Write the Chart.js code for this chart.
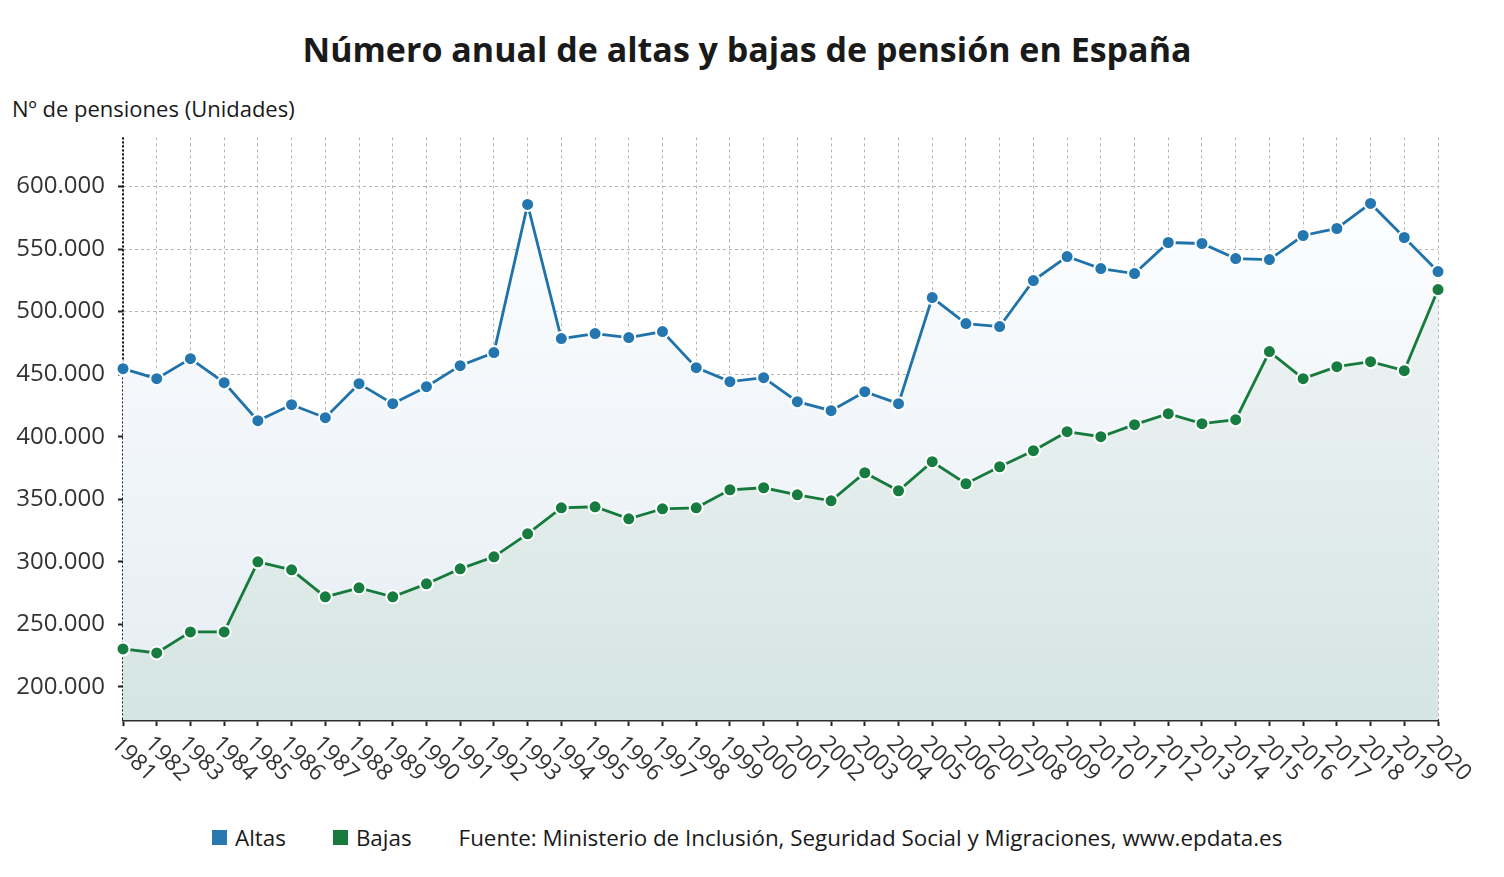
<!DOCTYPE html>
<html>
<head>
<meta charset="utf-8">
<script src="https://cdn.jsdelivr.net/npm/chart.js@4"></script>
<style>
  body { margin: 0; background: #fff; font-family: 'Open Sans', 'Noto Sans', sans-serif; }
  #wrap { position: relative; width: 1504px; height: 877px; overflow: hidden; }
  #title { position: absolute; left: 0; width: 1494px; top: 26px; text-align: center; font-size: 34px; font-weight: 700; color: #1a1a1a; }
  #ytitle { position: absolute; left: 12px; top: 93px; font-size: 22px; color: #1a1a1a; }
  #chartBox { position: absolute; left: 0; top: 110px; width: 1504px; height: 700px; }
  #legend { position: absolute; left: 212px; top: 822px; font-size: 22.4px; color: #1a1a1a; display: flex; align-items: center; white-space: nowrap; }
  .sw { display: inline-block; width: 15px; height: 15px; margin-right: 8px; }
  .item { display: flex; align-items: center; margin-right: 47px; }
</style>
</head>
<body>
<div id="wrap">
  <div id="title">Número anual de altas y bajas de pensión en España</div>
  <div id="ytitle">Nº de pensiones (Unidades)</div>
  <div id="chartBox"><canvas id="chart"></canvas></div>
  <div id="legend">
    <span class="item"><span class="sw" style="background:#2a78b2"></span>Altas</span>
    <span class="item"><span class="sw" style="background:#187a3e"></span>Bajas</span>
    <span>Fuente: Ministerio de Inclusión, Seguridad Social y Migraciones, www.epdata.es</span>
  </div>
</div>
<script>
const years = ['1981','1982','1983','1984','1985','1986','1987','1988','1989','1990',
  '1991','1992','1993','1994','1995','1996','1997','1998','1999','2000',
  '2001','2002','2003','2004','2005','2006','2007','2008','2009','2010',
  '2011','2012','2013','2014','2015','2016','2017','2018','2019','2020'];

const altas = [454400, 446400, 462400, 443200, 412800, 425600, 415200, 442400, 426400, 440000,
  456800, 467200, 585600, 478400, 482400, 479200, 484000, 455200, 444000, 447200,
  428000, 420800, 436000, 426400, 511200, 490400, 488000, 524800, 544000, 534400,
  530400, 555200, 554400, 542400, 541600, 560800, 566400, 586400, 559200, 532000];

const bajas = [230400, 227200, 244000, 244000, 300000, 293600, 272000, 279200, 272000, 282400,
  294400, 304000, 322400, 343200, 344000, 334400, 342400, 343200, 357600, 359200,
  353600, 348800, 371200, 356800, 380000, 362400, 376000, 388800, 404000, 400000,
  409600, 418400, 410400, 413600, 468000, 446400, 456000, 460000, 452800, 517600];

const yTicks = [200000, 250000, 300000, 350000, 400000, 450000, 500000, 550000, 600000];
const yMin = 173600;
const yMax = 639200;

const FONT = '"Open Sans", "Noto Sans", sans-serif';

function fillGradient(stops) {
  return ctx => {
    const area = ctx.chart.chartArea;
    if (!area) return stops[stops.length - 1][1];
    const g = ctx.chart.ctx.createLinearGradient(0, area.top, 0, area.bottom);
    stops.forEach(([p, c]) => g.addColorStop(p, c));
    return g;
  };
}

// dotted left axis line (chart.js border has no dash of its own)
const dottedAxis = {
  id: 'dottedAxis',
  beforeDatasetsDraw(chart) {
    const a = chart.chartArea;
    const ctx = chart.ctx;
    ctx.save();
    ctx.strokeStyle = '#111';
    ctx.lineWidth = 2;
    ctx.setLineDash([2, 2]);
    ctx.beginPath();
    ctx.moveTo(a.left, a.top);
    ctx.lineTo(a.left, a.bottom);
    ctx.stroke();
    ctx.restore();
  }
};

// slanted year labels under the axis
const slantLabels = {
  id: 'slantLabels',
  afterDraw(chart) {
    const x = chart.scales.x;
    const ctx = chart.ctx;
    ctx.save();
    ctx.font = '23px ' + FONT;
    ctx.fillStyle = '#333';
    ctx.textAlign = 'left';
    ctx.textBaseline = 'top';
    years.forEach((y, i) => {
      const px = x.getPixelForValue(i);
      ctx.save();
      ctx.translate(px, x.top + 12);
      ctx.rotate(Math.PI / 4);
      ctx.fillText(y, 0, 0);
      ctx.restore();
    });
    ctx.restore();
  }
};

new Chart(document.getElementById('chart'), {
  type: 'line',
  data: {
    labels: years,
    datasets: [
      {
        label: 'Altas',
        data: altas,
        order: 2,
        borderColor: '#1f72aa',
        backgroundColor: fillGradient([[0, '#ffffff'], [0.5, '#f2f6fa'], [1, '#e4edf3']]),
        fill: 'start',
        borderWidth: 2.8,
        tension: 0,
        pointRadius: 6.5,
        pointBackgroundColor: '#2376b0',
        pointBorderColor: '#fff',
        pointBorderWidth: 2
      },
      {
        label: 'Bajas',
        data: bajas,
        order: 1,
        borderColor: '#167a3b',
        backgroundColor: fillGradient([[0, '#f3f7f7'], [0.45, '#e8f0ef'], [1, '#d4e5e2']]),
        fill: 'start',
        borderWidth: 2.8,
        tension: 0,
        pointRadius: 6.5,
        pointBackgroundColor: '#177c40',
        pointBorderColor: '#fff',
        pointBorderWidth: 2
      }
    ]
  },
  plugins: [dottedAxis, slantLabels],
  options: {
    responsive: true,
    maintainAspectRatio: false,
    animation: false,
    layout: { padding: { top: 7, right: 66, left: 0, bottom: 0 } },
    plugins: {
      legend: { display: false },
      title: { display: false },
      tooltip: { enabled: false }
    },
    scales: {
      x: {
        offset: false,
        afterFit: s => { s.height = 90; },
        grid: {
          color: '#b5b5b5',
          drawTicks: true,
          tickLength: 6,
          tickColor: '#222',
          tickWidth: 2,
          tickBorderDash: []
        },
        border: { display: true, color: '#2a2f2c', width: 2.5, dash: [3, 3] },
        ticks: { display: false }
      },
      y: {
        min: yMin,
        max: yMax,
        afterFit: s => { s.width = 123; },
        afterBuildTicks: s => { s.ticks = yTicks.map(v => ({ value: v })); },
        grid: {
          color: '#b5b5b5',
          tickLength: 5,
          tickColor: '#222',
          tickWidth: 2,
          tickBorderDash: []
        },
        border: { display: false, dash: [3, 3] },
        ticks: {
          padding: 13,
          color: '#333',
          font: { family: FONT, size: 24 },
          callback: v => v.toLocaleString('de-DE')
        }
      }
    }
  }
});
</script>
</body>
</html>
